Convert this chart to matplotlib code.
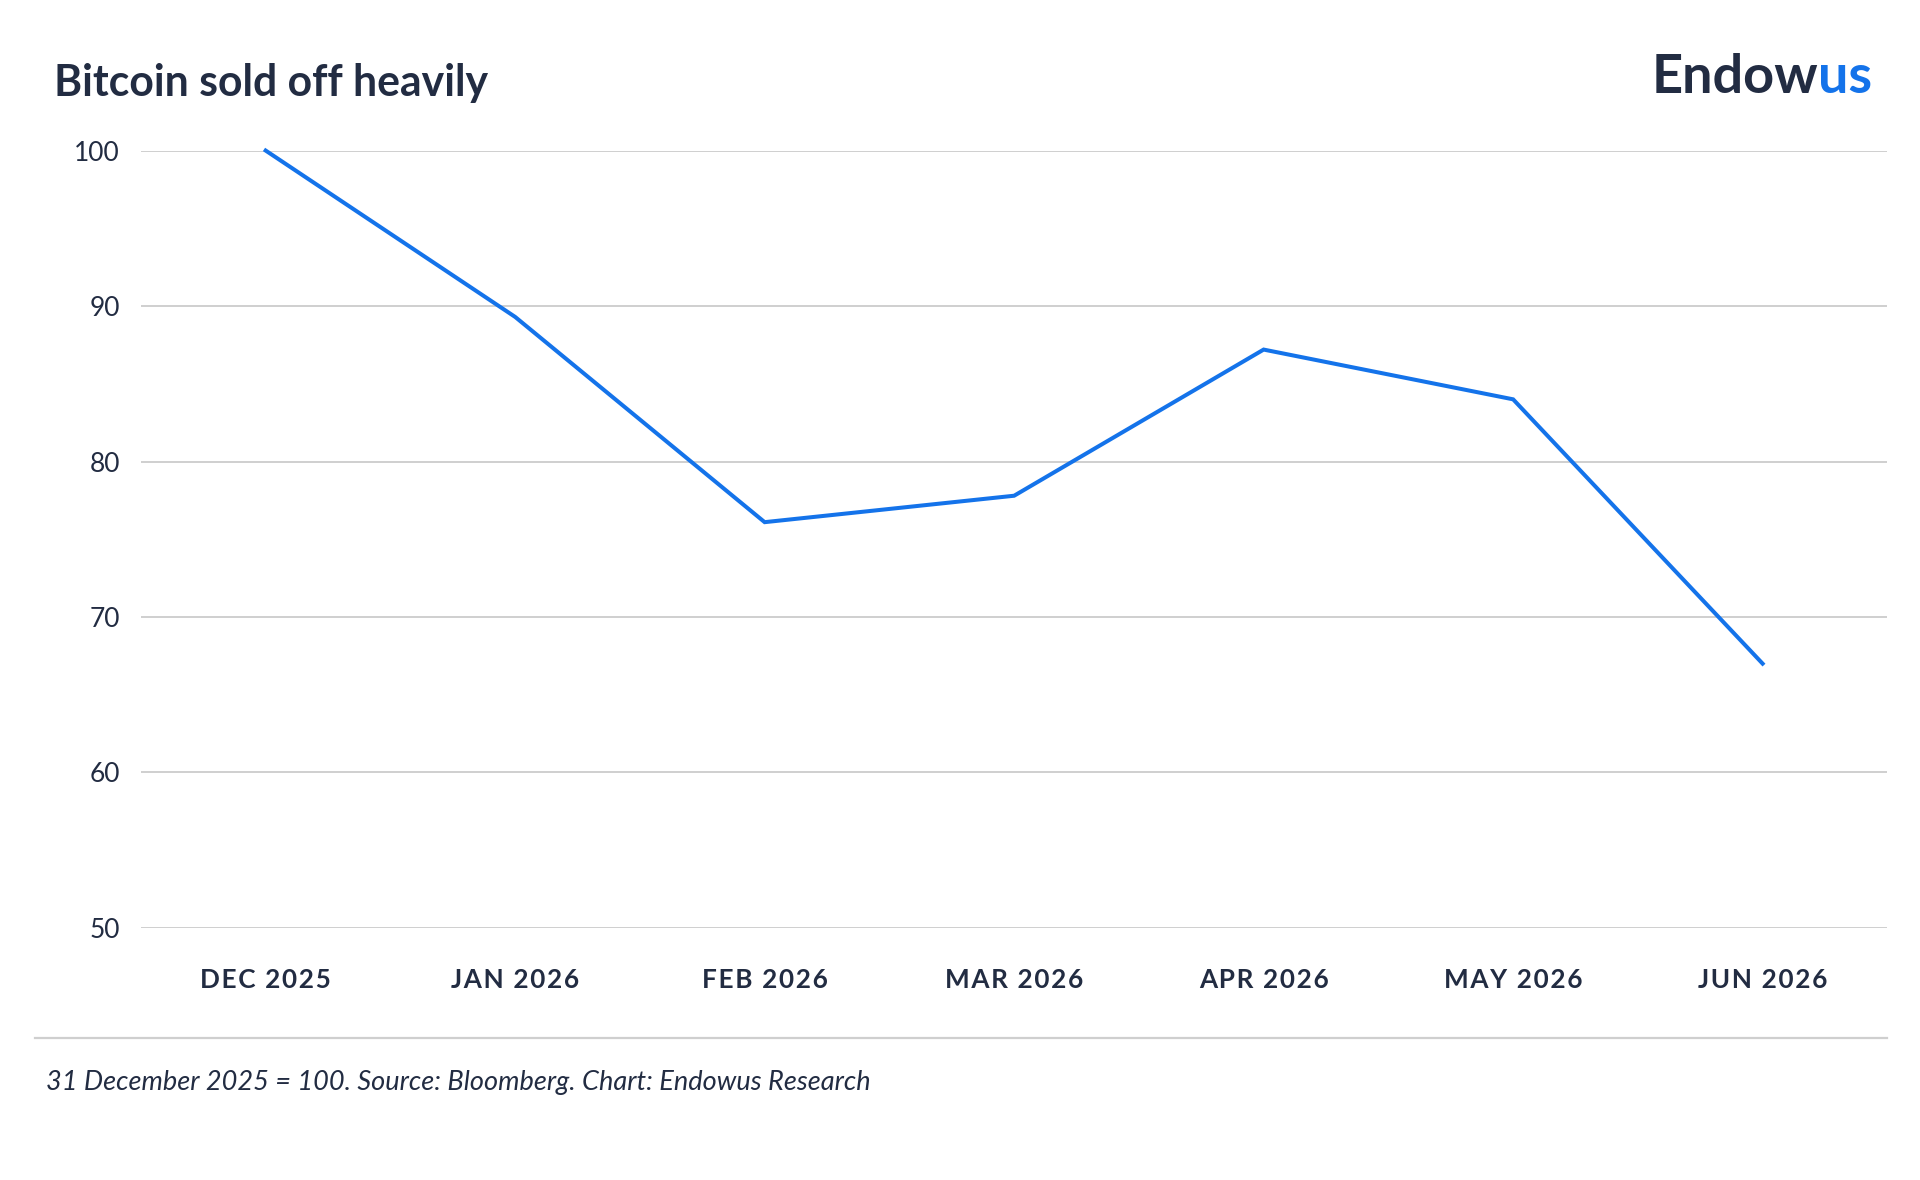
import matplotlib.pyplot as plt
from matplotlib.lines import Line2D

plt.rcParams['font.family'] = ['Lato', 'DejaVu Sans']

months = ["DEC 2025", "JAN 2026", "FEB 2026", "MAR 2026", "APR 2026", "MAY 2026", "JUN 2026"]
index_values = [100.0, 89.3, 76.1, 77.8, 87.2, 84.0, 67.0]
y_ticks = [50, 60, 70, 80, 90, 100]

NAVY = "#222c42"
BLUE = "#1473ea"
GRID = "#cfcfcf"


def spaced(s):
    # poor man's letter spacing with hair spaces
    return "\u200a".join(s)


fig = plt.figure(figsize=(19.2, 11.8), dpi=100)
ax = fig.add_axes([0.0734, 0.2136, 0.9096, 0.6588])

x = list(range(len(months)))
ax.plot(x, index_values, color=BLUE, linewidth=2.9, solid_joinstyle="miter", clip_on=False, zorder=3)

ax.set_xlim(-0.5, len(months) - 0.5)
ax.set_ylim(50, 100)
ax.set_yticks(y_ticks)
ax.set_xticks(x)
ax.set_xticklabels([spaced(m) for m in months], fontsize=18.8, fontweight="bold", color=NAVY)
ax.tick_params(axis="y", length=0, pad=15)
ax.set_yticklabels([str(t) for t in y_ticks], fontsize=19, color=NAVY)
ax.tick_params(axis="x", length=0, pad=29)
ax.grid(axis="y", color=GRID, linewidth=1.4)
ax.set_axisbelow(True)
for s in ax.spines.values():
    s.set_visible(False)

fig.text(0.028, 0.930, "Bitcoin sold off heavily", fontsize=30.8, fontweight="bold",
         color=NAVY, va="center", ha="left")

# logo
t1 = fig.text(0.860, 0.934, "Endow", fontsize=39, fontweight="bold", color=NAVY,
              va="center", ha="left")
fig.canvas.draw()
bb = t1.get_window_extent()
fig.text(bb.x1 / fig.bbox.width, 0.934, "us", fontsize=39, fontweight="bold", color=BLUE,
         va="center", ha="left")

fig.add_artist(Line2D([0.018, 0.983], [0.1206, 0.1206], transform=fig.transFigure,
                      color=GRID, linewidth=1.6))
fig.text(0.024, 0.083, "31 December 2025 = 100. Source: Bloomberg. Chart: Endowus Research",
         fontsize=19.5, style="italic", color=NAVY, va="center", ha="left")

fig.savefig("out.png", dpi=100, facecolor="white")
